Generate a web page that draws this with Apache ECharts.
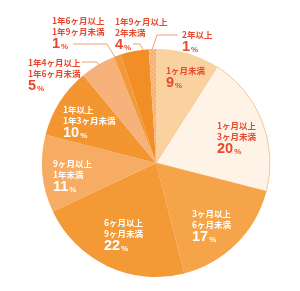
<!DOCTYPE html>
<html><head><meta charset="utf-8">
<script src="https://cdn.jsdelivr.net/npm/echarts@6/dist/echarts.min.js"></script>
<style>html,body{margin:0;padding:0;background:#fff}#c{width:300px;height:291px}</style>
</head><body><div id="c"></div>
<script>
const categories = ['1ヶ月未満', '1ヶ月以上\n3ヶ月未満', '3ヶ月以上\n6ヶ月未満', '6ヶ月以上\n9ヶ月未満', '9ヶ月以上\n1年未満', '1年以上\n1年3ヶ月未満', '1年4ヶ月以上\n1年6ヶ月未満', '1年6ヶ月以上\n1年9ヶ月未満', '1年9ヶ月以上\n2年未満', '2年以上'];
const values = [9, 20, 17, 22, 11, 10, 5, 1, 4, 1];

const sliceColors = ['#FAD29F', '#FEF3E6', '#F5A449', '#F39935', '#F6AC62', '#F39530', '#F6B27A', '#F29A3A', '#F18E25', '#F6BE8A'];
const textColors = ['#E8492C', '#E8492C', '#fff', '#fff', '#fff', '#fff', '#E8492C', '#E8492C', '#E8492C', '#E8492C'];
const labelPos = [[166,65],[217,120],[192,208],[104,217],[53,158],[63,104],[28,57],[52,15],[115,16],[182,29]];
const linePts = {
  6: [[100,66],[97,62],[82,62]],
  7: [[115,57],[107,44],[73,44]],
  8: [[143,50],[140,44],[133,44]],
  9: [[152,50],[157,35],[178,35]]
};

const data = categories.map((name, i) => {
  const item = {
    name: name, value: values[i],
    itemStyle: { color: sliceColors[i] },
    label: { color: textColors[i] },
    labelLine: { show: linePts[i] != null, lineStyle: { color: '#F1A070', width: 1 } }
  };
  if (i === 1) { item.itemStyle.borderColor = '#F8C690'; item.itemStyle.borderWidth = 1; }
  if (i === 9) {
    item.itemStyle.decal = { symbol: 'rect', symbolSize: 1, dashArrayX: [1, 0], dashArrayY: [1, 2], rotation: Math.PI / 4, color: 'rgba(240,140,60,0.45)' };
  }
  return item;
});

const chart = echarts.init(document.getElementById('c'), null, { renderer: 'canvas' });
chart.setOption({
  animation: false,
  series: [{
    type: 'pie',
    center: [156, 163],
    radius: [0, 114],
    startAngle: 90,
    clockwise: true,
    avoidLabelOverlap: false,
    data: data,
    label: {
      show: true,
      position: 'outside',
      fontFamily: 'Noto Sans CJK JP',
      fontWeight: 'bold',
      formatter: p => p.name.split('\n').map(s => '{t|' + s + '}').join('\n') + '\n{n|' + p.value + '}{p|%}',
      rich: {
        t: { fontSize: 8.5, lineHeight: 11, fontWeight: 'bold', fontFamily: 'Noto Sans CJK JP' },
        n: { fontSize: 14.5, lineHeight: 14, fontWeight: 'bold', fontFamily: 'Liberation Sans' },
        p: { fontSize: 8, lineHeight: 14, fontWeight: 'bold', fontFamily: 'Liberation Sans', verticalAlign: 'bottom', padding: [0, 0, 0, 1] }
      }
    },
    labelLine: { length: 5, length2: 10 },
    labelLayout: function (params) {
      const i = params.dataIndex;
      const o = { x: labelPos[i][0], y: labelPos[i][1], align: 'left', verticalAlign: 'top' };
      if (linePts[i]) o.labelLinePoints = linePts[i];
      return o;
    },
    emphasis: { disabled: true }
  }]
});
</script>
</body></html>
